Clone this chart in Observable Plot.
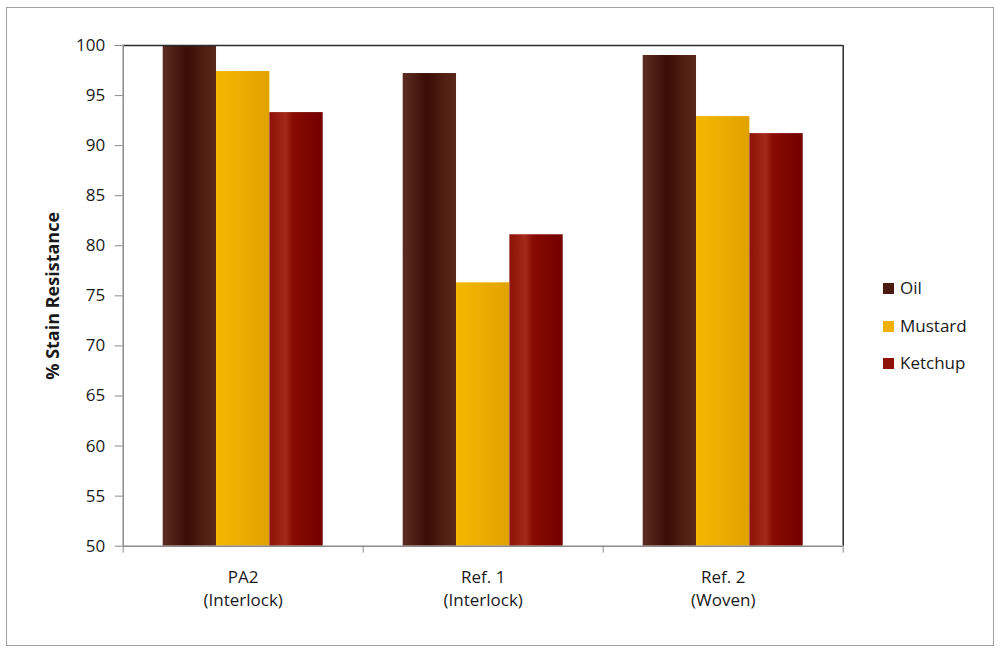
<!DOCTYPE html>
<html><head><meta charset="utf-8">
<script src="https://cdn.jsdelivr.net/npm/d3@7"></script>
<script src="https://cdn.jsdelivr.net/npm/@observablehq/plot@0.6"></script>
<style>
html,body{margin:0;padding:0;background:#fff;overflow:hidden}
#wrap{position:relative;width:1000px;height:654px;font-family:"Open Sans",sans-serif;color:#1a1a1a}
#border{position:absolute;left:6px;top:7px;width:988px;height:639px;border:1.5px solid #a0a0a0;box-sizing:border-box;pointer-events:none}
#chart{position:absolute;left:0;top:0}
.li{position:absolute;left:883px;height:24px;line-height:24px;font-size:17px;display:flex;align-items:center;white-space:nowrap}
.sw{width:11px;height:11px;margin-right:6px;display:inline-block}
</style></head>
<body>
<div id="wrap"><div id="chart"></div><div id="border"></div><div id="legend"></div></div>
<script>
const categories = ["PA2\n(Interlock)", "Ref. 1\n(Interlock)", "Ref. 2\n(Woven)"];
const series = ["Oil", "Mustard", "Ketchup"];
const oil = [100, 97.2, 99.0];
const mustard = [97.4, 76.3, 92.9];
const ketchup = [93.3, 81.1, 91.2];
const yTicks = [50, 55, 60, 65, 70, 75, 80, 85, 90, 95, 100];

const values = [oil, mustard, ketchup];
const rows = categories.flatMap((cat, ci) => series.map((s, si) => ({ci, si, cat, series: s, value: values[si][ci]})));

// styles
const swatch = {Oil: "#4a1a10", Mustard: "#efb000", Ketchup: "#8e1208"};
const grads = {
  Oil: [[0, "#5c2b21"], [0.2, "#4f1e14"], [0.45, "#3a0c04"], [0.7, "#4c1a10"], [1, "#5a2819"]],
  Mustard: [[0, "#f5b800"], [1, "#e0a200"]],
  Ketchup: [[0, "#8c1208"], [0.3, "#a3291a"], [0.45, "#880a02"], [1, "#730000"]]
};
const defs = () => {
  const d = d3.create("svg:defs");
  for (const s of series) {
    const g = d.append("linearGradient").attr("id", "g-" + s).attr("x1", 0).attr("x2", 1).attr("y1", 0).attr("y2", 0);
    for (const [o, c] of grads[s]) g.append("stop").attr("offset", o).attr("stop-color", c);
  }
  return d.node();
};

const gap = 1 / 6, bw = 2 / 9;
const chart = Plot.plot({
  width: 1000, height: 654,
  marginLeft: 122.7, marginRight: 157.3, marginTop: 45, marginBottom: 108.3,
  style: {fontFamily: "'Open Sans', sans-serif", fontSize: "17px", color: "#1a1a1a", background: "transparent", overflow: "visible"},
  x: {type: "linear", domain: [0, categories.length], axis: null},
  y: {domain: [50, 100], axis: null},
  color: {domain: series, range: series.map(s => `url(#g-${s})`)},
  marks: [
    defs,
    Plot.rectY(rows, {x1: d => d.ci + gap + d.si * bw, x2: d => d.ci + gap + (d.si + 1) * bw, y1: 50, y2: "value", fill: "series"}),
    Plot.ruleY([100], {stroke: "#2b2b2b", strokeWidth: 1.5}),
    Plot.ruleX([categories.length], {stroke: "#2b2b2b", strokeWidth: 1.5}),
    Plot.axisY({ticks: yTicks, tickSize: 8, tickPadding: 10, stroke: "#8c8c8c", fill: "#1a1a1a", fontSize: 17, label: null}),
    Plot.ruleX([0], {stroke: "#8c8c8c", strokeWidth: 1.5}),
    Plot.ruleY([50], {stroke: "#8c8c8c", strokeWidth: 1.5}),
    Plot.axisX({ticks: d3.range(categories.length + 1), tickSize: 7, tickFormat: () => "", stroke: "#8c8c8c", label: null}),
    Plot.text(categories, {x: (d, i) => i + 0.5, y: 50, text: d => d, lineAnchor: "top", dy: 21, lineHeight: 1.35, fill: "#1a1a1a", fontSize: 17}),
    Plot.text(["% Stain Resistance"], {frameAnchor: "left", textAnchor: "middle", dx: -70, rotate: -90, fontWeight: "bold", fontSize: 18, fill: "#1a1a1a"})
  ]
});
document.getElementById("chart").appendChild(chart);

const legend = document.getElementById("legend");
const centers = [288, 326, 363];
series.forEach((s, i) => {
  const el = document.createElement("div");
  el.className = "li";
  el.style.top = (centers[i] - 12) + "px";
  el.innerHTML = `<span class="sw" style="background:${swatch[s]}"></span><span>${s}</span>`;
  legend.appendChild(el);
});
</script>
</body></html>
